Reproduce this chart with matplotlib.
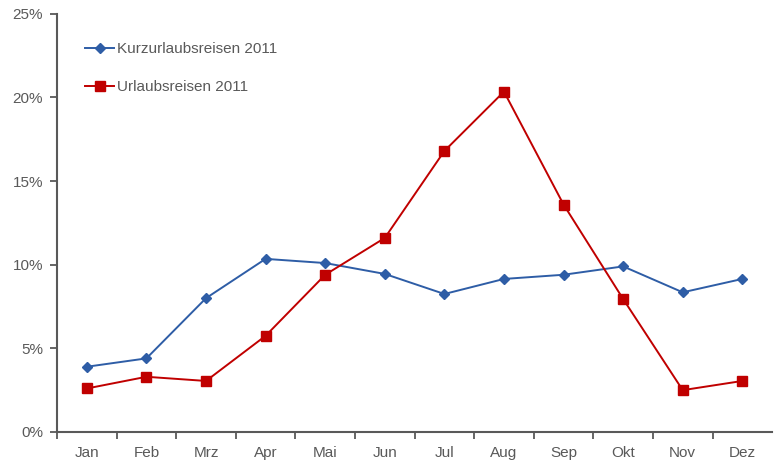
import matplotlib.pyplot as plt
from matplotlib.ticker import FuncFormatter, FixedLocator
import numpy as np

plt.rcParams["font.family"] = ["Liberation Sans", "DejaVu Sans"]

months = ["Jan", "Feb", "Mrz", "Apr", "Mai", "Jun", "Jul", "Aug", "Sep", "Okt", "Nov", "Dez"]
kurzurlaub = [3.9, 4.4, 8.0, 10.35, 10.1, 9.45, 8.25, 9.15, 9.4, 9.9, 8.35, 9.15]
urlaub = [2.6, 3.3, 3.05, 5.75, 9.4, 11.6, 16.8, 20.35, 13.6, 7.95, 2.5, 3.05]

grey = "#595959"
blue = "#2E5DA6"
red = "#C00000"

fig = plt.figure(figsize=(7.76, 4.62), dpi=100)
ax = fig.add_axes([0.0735, 0.065, 0.9215, 0.905])

x = np.arange(len(months))
ax.plot(x, kurzurlaub, "-D", color=blue, markersize=5.5, linewidth=1.4,
        label="Kurzurlaubsreisen 2011")
ax.plot(x, urlaub, "-s", color=red, markersize=7.5, linewidth=1.4,
        label="Urlaubsreisen 2011")

ax.set_xlim(-0.5, 11.5)
ax.set_ylim(0, 25)
ax.set_yticks([0, 5, 10, 15, 20, 25])
ax.yaxis.set_major_formatter(FuncFormatter(lambda v, p: f"{v:.0f}%"))

ax.set_xticks(x)
ax.set_xticklabels(months)
ax.xaxis.set_minor_locator(FixedLocator(np.arange(-0.5, 11.5, 1.0)))
ax.tick_params(axis="x", which="major", length=0, pad=10, labelsize=11, labelcolor=grey)
ax.tick_params(axis="x", which="minor", length=5, width=1.3, color=grey)
ax.tick_params(axis="y", which="major", length=5, width=1.3, color=grey,
               labelsize=11, labelcolor=grey, pad=5)

for side in ["top", "right"]:
    ax.spines[side].set_visible(False)
for side in ["left", "bottom"]:
    ax.spines[side].set_color(grey)
    ax.spines[side].set_linewidth(1.5)

leg = ax.legend(loc="upper left", bbox_to_anchor=(0.02, 0.965), frameon=False,
                fontsize=11, labelspacing=1.55, handlelength=1.9, handletextpad=0.2)
for t in leg.get_texts():
    t.set_color(grey)

fig.savefig("out.png", dpi=100)
